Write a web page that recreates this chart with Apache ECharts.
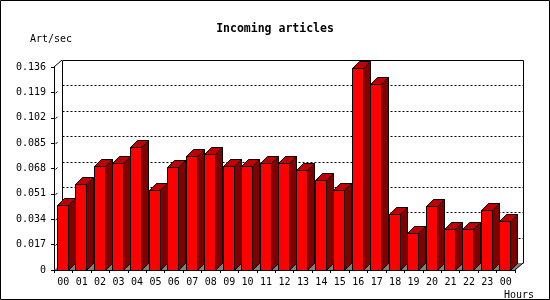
<!DOCTYPE html>
<html>
<head>
<meta charset="utf-8">
<script src="https://cdn.jsdelivr.net/npm/echarts@6/dist/echarts.min.js"></script>
<style>
html,body{margin:0;padding:0;background:#fff;}
#chart{width:550px;height:300px;}
</style>
</head>
<body>
<div id="chart"></div>
<script>
const hours = ['00','01','02','03','04','05','06','07','08','09','10','11','12','13','14','15','16','17','18','19','20','21','22','23','00'];
const articlesPerSec = [0.0433,0.0573,0.0694,0.0714,0.0821,0.0533,0.0687,0.0767,0.0774,0.0700,0.0700,0.0720,0.0720,0.0667,0.0600,0.0533,0.1356,0.1249,0.0372,0.0245,0.0426,0.0272,0.0272,0.0399,0.0326];
const yTicks = [0,0.017,0.034,0.051,0.068,0.085,0.102,0.119,0.136];

const MONO = '"DejaVu Sans Mono", "Liberation Mono", monospace';
const DX = 8, DY = 7;      // depth of back wall
const BD = 7;              // depth of bars

const chart = echarts.init(document.getElementById('chart'), null, {renderer:'canvas'});

function px(v){ return Math.round(v) + 0.5; }

function renderWall(params, api){
  const bw = api.size([1,0])[0];
  const xl = api.coord([0,0])[0] - bw/2;
  const xr = api.coord([hours.length-1,0])[0] + bw/2;
  const y0 = api.coord([0,0])[1];
  const yTop = api.coord([0,yTicks[yTicks.length-1]])[1];
  const children = [];
  children.push({type:'polygon', shape:{points:[[xl,y0],[xr,y0],[xr+DX,y0-DY],[xl+DX,y0-DY]]}, style:{fill:'#808080', stroke:null}});
  yTicks.forEach(function(v, i){
    if (i === 0 || i === yTicks.length-1) return;
    const y = api.coord([0,v])[1];
    children.push({type:'line', shape:{x1:px(xl+DX), y1:px(y-DY), x2:px(xr+DX), y2:px(y-DY)}, style:{stroke:'#000', lineWidth:1, lineDash:[2,2]}});
    children.push({type:'line', shape:{x1:xl+1.5, y1:y+1, x2:xl+3.5, y2:y-1}, style:{stroke:'#000', lineWidth:1}});
  });
  const bl = px(xl+DX), br = px(xr+DX), bt = px(yTop-DY), bb = px(y0-DY);
  children.push({type:'polyline', shape:{points:[[bl,bb],[bl,bt],[br,bt],[br,bb]]}, style:{stroke:'#000', lineWidth:1, fill:null}});
  children.push({type:'line', shape:{x1:xl, y1:yTop, x2:xl+DX, y2:yTop-DY}, style:{stroke:'#000', lineWidth:1}});
  children.push({type:'line', shape:{x1:xr, y1:y0, x2:xr+DX, y2:y0-DY}, style:{stroke:'#000', lineWidth:1}});
  return {type:'group', children:children};
}

function renderBar(params, api){
  const idx = api.value(0);
  const val = api.value(1);
  const bw = api.size([1,0])[0];
  const top = api.coord([idx,val]);
  const base = api.coord([idx,0]);
  const slotLeft = top[0] - bw/2;
  const fx0 = Math.round(slotLeft + bw*0.147) + 0.5;
  const fx1 = fx0 + Math.round(bw*0.6);
  const ty = Math.round(top[1]) + 0.5;
  const by = Math.round(base[1]) + 0.5;
  const st = {stroke:'#000', lineWidth:1};
  return {type:'group', children:[
    {type:'polygon', shape:{points:[[fx1,ty],[fx1+BD,ty-BD],[fx1+BD,by-BD],[fx1,by]]}, style:Object.assign({fill:'#800000'}, st)},
    {type:'polygon', shape:{points:[[fx0,ty],[fx0+BD,ty-BD],[fx1+BD,ty-BD],[fx1,ty]]}, style:Object.assign({fill:'#c00000'}, st)},
    {type:'rect', shape:{x:fx0, y:ty, width:fx1-fx0, height:by-ty}, style:Object.assign({fill:'#ff0000'}, st)}
  ]};
}

const option = {
  animation:false,
  backgroundColor:'#ffffff',
  title:{
    text:'Incoming articles', left:'center', top:18,
    textStyle:{fontFamily:MONO, fontWeight:'bold', fontSize:11.5, color:'#000'}
  },
  grid:{left:54, right:35, top:67, bottom:30},
  xAxis:{
    type:'category', data:hours, boundaryGap:true,
    axisLine:{show:true, lineStyle:{color:'#000', width:1}},
    axisTick:{show:true, length:3, lineStyle:{color:'#000'}, interval:0},
    axisLabel:{fontFamily:MONO, fontSize:10, color:'#000', margin:7, interval:0},
    splitLine:{show:false}
  },
  yAxis:{
    type:'value', min:yTicks[0], max:yTicks[yTicks.length-1], interval:0.017,
    axisLine:{show:true, lineStyle:{color:'#000', width:1}},
    axisTick:{show:true, length:3, lineStyle:{color:'#000'}},
    axisLabel:{fontFamily:MONO, fontSize:10, color:'#000', margin:8,
      formatter:function(v){ return Math.abs(v) < 1e-9 ? '0' : v.toFixed(3); }},
    splitLine:{show:false}
  },
  series:[
    {type:'custom', name:'wall', z:1, silent:true, renderItem:renderWall, data:[[0,0]], encode:{x:0,y:1}, clip:false},
    {type:'custom', name:'Incoming articles', z:2, renderItem:renderBar,
      data:articlesPerSec.map(function(v,i){return [i,v];}), encode:{x:0,y:1}, clip:false}
  ],
  graphic:[
    {type:'text', left:30, top:34, style:{text:'Art/sec', font:'10px ' + MONO, fill:'#000'}},
    {type:'text', right:16, top:290, style:{text:'Hours', font:'10px ' + MONO, fill:'#000'}},
    {type:'rect', shape:{x:0.5, y:0.5, width:549, height:299}, style:{fill:null, stroke:'#000', lineWidth:1}, z:100}
  ]
};
chart.setOption(option);
</script>
</body>
</html>
